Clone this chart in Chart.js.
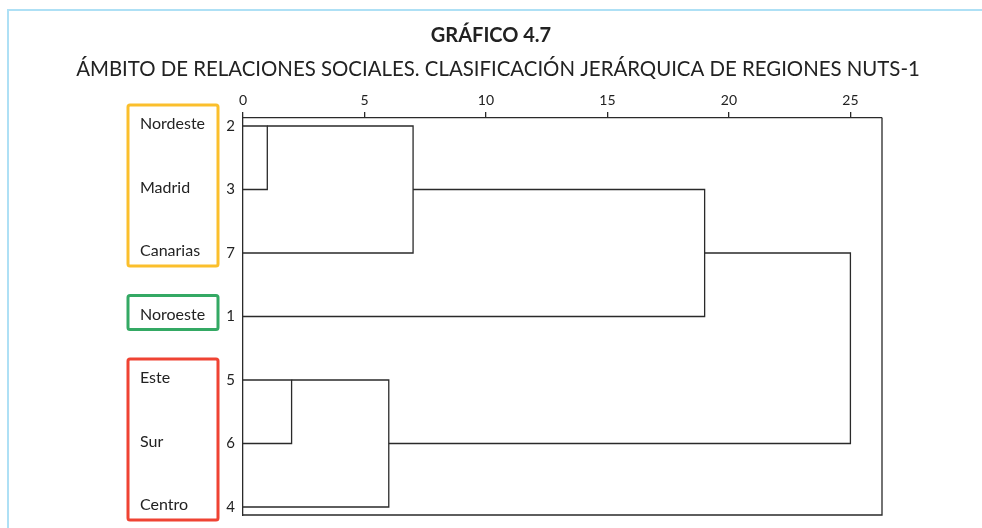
<!doctype html>
<html lang="es">
  <head>
    <meta charset="utf-8">
    <title>Gráfico 4.7</title>
    <style>
      * { margin: 0; padding: 0; }
      body { background: #fff; }
      .chartBox { width: 982px; height: 528px; }
    </style>
  </head>
  <body>
    <div class="chartBox">
      <canvas id="myChart"></canvas>
    </div>

    <script src="https://cdn.jsdelivr.net/npm/chart.js@4.4.0/dist/chart.umd.min.js"></script>

    <script>
    // data block
    const leafLabels = ['2', '3', '7', '1', '5', '6', '4'];
    const regionNames = ['Nordeste', 'Madrid', 'Canarias', 'Noroeste', 'Este', 'Sur', 'Centro'];
    // each merge joins row A and row B at a distance; the joined cluster continues on mergeOutRow
    const mergeRowA = [0, 0, 1, 4, 4, 2];
    const mergeRowB = [1, 2, 3, 5, 6, 5];
    const mergeHeight = [1, 7, 19, 2, 6, 25];
    const mergeOutRow = [0, 1, 2, 4, 5, null];
    const xTicks = [0, 5, 10, 15, 20, 25];
    const groupFirst = [0, 3, 4];
    const groupLast = [2, 3, 6];
    const groupColor = ['#fbbf2c', '#34a964', '#ef4333'];

    const FONT = 'Lato, "Open Sans", sans-serif';
    const INK = '#2a2a2a';

    // build the link lines
    const reach = leafLabels.map(() => 0);
    const datasets = mergeHeight.map((h, i) => {
      const a = mergeRowA[i];
      const b = mergeRowB[i];
      const pts = [
        { x: reach[a], y: a },
        { x: h, y: a },
        { x: h, y: b },
        { x: reach[b], y: b }
      ];
      if (mergeOutRow[i] !== null) reach[mergeOutRow[i]] = h;
      return {
        data: pts,
        showLine: true,
        borderColor: INK,
        borderWidth: 1.3,
        pointRadius: 0,
        pointHoverRadius: 0,
        tension: 0,
        fill: false
      };
    });

    // frame, titles and region boxes
    const decorations = {
      id: 'decorations',
      beforeDraw: (chart) => {
        const { ctx } = chart;
        ctx.save();
        ctx.strokeStyle = '#aee0f5';
        ctx.lineWidth = 2;
        ctx.beginPath();
        ctx.moveTo(8, 528);
        ctx.lineTo(8, 10);
        ctx.lineTo(982, 10);
        ctx.stroke();

        ctx.fillStyle = '#222';
        ctx.textAlign = 'center';
        ctx.textBaseline = 'alphabetic';
        ctx.font = 'bold 20px ' + FONT;
        ctx.fillText('GRÁFICO 4.7', 491, 42);
        ctx.font = '20.4px ' + FONT;
        ctx.fillText('ÁMBITO DE RELACIONES SOCIALES. CLASIFICACIÓN JERÁRQUICA DE REGIONES NUTS-1', 498, 76);
        ctx.restore();
      },
      afterDatasetsDraw: (chart) => {
        const { ctx, chartArea: { top, bottom, left, right }, scales: { y } } = chart;
        ctx.save();
        // right and bottom edges of the plot box
        ctx.strokeStyle = INK;
        ctx.lineWidth = 1.3;
        ctx.beginPath();
        ctx.moveTo(left, bottom);
        ctx.lineTo(right, bottom);
        ctx.lineTo(right, top);
        ctx.stroke();

        // region boxes
        groupFirst.forEach((first, g) => {
          const y0 = y.getPixelForValue(first) - 21;
          const y1 = y.getPixelForValue(groupLast[g]) + 13;
          ctx.strokeStyle = groupColor[g];
          ctx.lineWidth = 3;
          ctx.beginPath();
          ctx.roundRect(128, y0, 90, y1 - y0, 2);
          ctx.stroke();
        });

        ctx.fillStyle = '#222';
        ctx.font = '16px ' + FONT;
        ctx.textAlign = 'left';
        ctx.textBaseline = 'middle';
        regionNames.forEach((name, i) => {
          ctx.fillText(name, 140, y.getPixelForValue(i) - 2);
        });
        ctx.restore();
      }
    };

    // config block
    const config = {
      type: 'scatter',
      data: { datasets: datasets },
      options: {
        responsive: true,
        maintainAspectRatio: false,
        animation: false,
        layout: { padding: { left: 0, right: 100, top: 0, bottom: 13 } },
        plugins: {
          legend: { display: false },
          tooltip: { enabled: false }
        },
        scales: {
          x: {
            type: 'linear',
            position: 'top',
            min: 0,
            max: 26.3,
            afterBuildTicks: (scale) => { scale.ticks = xTicks.map(v => ({ value: v })); },
            afterFit: (scale) => {
              scale.height = 118;
              scale.paddingLeft = 0;
              scale.paddingRight = 0;
            },
            grid: { drawOnChartArea: false, drawTicks: true, tickLength: 6, color: INK, lineWidth: 1.3 },
            border: { display: true, color: INK, width: 1.3 },
            ticks: { color: '#222', padding: 3, font: { family: FONT, size: 14 } }
          },
          y: {
            type: 'linear',
            reverse: true,
            min: -0.126,
            max: 6.126,
            afterBuildTicks: (scale) => { scale.ticks = leafLabels.map((_, i) => ({ value: i })); },
            afterFit: (scale) => {
              scale.width = 243;
              scale.paddingTop = 0;
              scale.paddingBottom = 0;
            },
            grid: { display: false, drawTicks: false },
            border: { display: true, color: INK, width: 1.3 },
            ticks: {
              color: '#222',
              padding: 8,
              font: { family: FONT, size: 15 },
              callback: (v) => leafLabels[v]
            }
          }
        }
      },
      plugins: [decorations]
    };

    // init render block
    const myChart = new Chart(
      document.getElementById('myChart'),
      config
    );
    </script>
  </body>
</html>
